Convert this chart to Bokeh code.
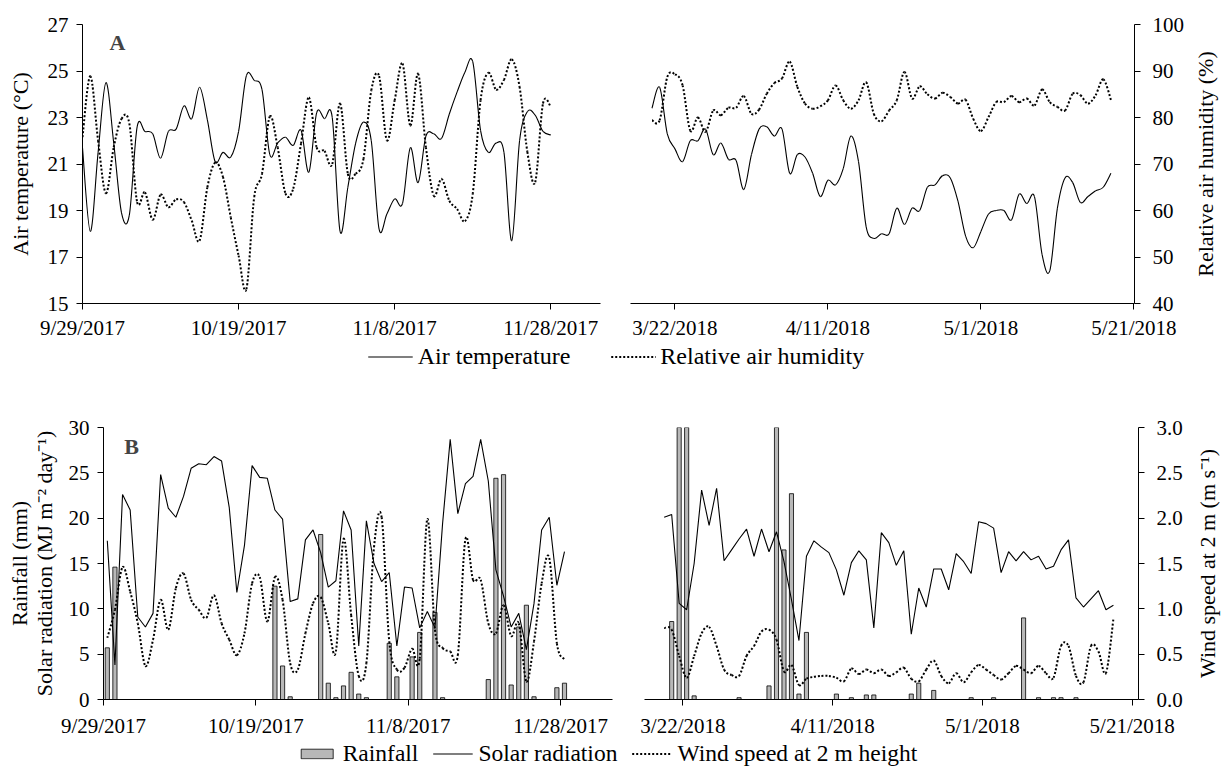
import pandas as pd
from bokeh.plotting import figure
from bokeh.models import (Range1d, FixedTicker, Label, Legend, LegendItem,
                          NumeralTickFormatter, Spacer)
from bokeh.layouts import column, row
from bokeh.embed import file_html
from bokeh.resources import INLINE

FONT = "Liberation Serif"

# ---------------- data ----------------
dates_2017 = pd.date_range("2017-09-29", "2017-11-28", freq="D")
dates_2018 = pd.date_range("2018-03-19", "2018-05-18", freq="D")
origin_2017 = pd.Timestamp("2017-09-29")
origin_2018 = pd.Timestamp("2018-03-22")
ticks_2017 = ["9/29/2017", "10/19/2017", "11/8/2017", "11/28/2017"]
ticks_2018 = ["3/22/2018", "4/11/2018", "5/1/2018", "5/21/2018"]

air_temp_2017 = [21.7, 18.1, 21.5, 24.5, 21.9, 18.9, 18.8, 22.6, 22.4, 22.3, 21.25, 22.4, 22.5,
                 23.5, 22.95, 24.3, 22.9, 21.1, 21.5, 21.3, 22.4, 24.8, 24.6, 24.2, 21.4, 21.9,
                 22.15, 21.8, 22.45, 20.65, 23.2, 22.95, 23.0, 18.1, 20.0, 21.9, 22.8, 22.0, 18.2,
                 18.85, 19.5, 19.3, 21.7, 20.2, 22.2, 22.3, 22.1, 23.15, 24.1, 24.95, 25.4, 22.45,
                 21.5, 21.9, 21.5, 17.7, 22.0, 23.25, 23.1, 22.4, 22.25]
rh_2017 = [75.8, 88.9, 75.0, 63.7, 73.6, 79.7, 78.7, 61.8, 63.9, 58.0, 63.4, 60.7, 62.4, 61.8,
           57.8, 53.5, 65.0, 70.3, 67.2, 58.5, 50.3, 43.1, 62.9, 67.9, 80.2, 73.6, 63.7, 64.7,
           74.4, 84.3, 73.6, 72.8, 70.0, 83.0, 67.9, 67.9, 71.1, 85.8, 88.9, 75.1, 83.7, 91.6,
           78.3, 89.4, 73.6, 63.2, 66.8, 62.1, 60.3, 57.7, 63.6, 83.7, 89.6, 86.0, 88.1, 92.5,
           86.6, 72.6, 66.1, 83.0, 82.3]
air_temp_2018 = [23.4, 24.3, 22.3, 21.65, 21.1, 22.0, 22.0, 22.5, 21.4, 21.9, 21.2, 21.15, 19.9,
                 21.4, 22.5, 22.6, 22.2, 22.5, 20.6, 21.4, 21.3, 20.6, 19.6, 20.3, 20.1, 20.8,
                 22.2, 21.1, 18.3, 17.8, 18.0, 18.0, 19.1, 18.4, 19.1, 19.0, 20.0, 20.1, 20.5,
                 20.4, 19.4, 17.9, 17.4, 18.1, 18.85, 19.0, 19.0, 18.6, 19.7, 19.3, 19.6, 17.1,
                 16.4, 19.1, 20.4, 20.2, 19.35, 19.6, 19.85, 20.0, 20.6]
rh_2018 = [79.4, 79.4, 88.7, 89.3, 86.9, 77.2, 80.0, 76.9, 81.5, 80.5, 82.1, 82.1, 84.6, 80.8,
           81.7, 85.1, 87.4, 88.4, 92.0, 86.6, 83.0, 81.9, 82.4, 83.7, 86.9, 83.7, 81.9, 83.7,
           87.6, 80.8, 79.2, 81.5, 83.7, 89.8, 84.1, 86.7, 85.0, 84.1, 85.3, 84.4, 83.0, 83.8,
           79.7, 77.1, 80.1, 83.3, 83.3, 84.6, 83.3, 84.1, 82.6, 86.0, 83.3, 82.3, 81.5, 85.1,
           84.8, 83.0, 84.8, 88.2, 83.8]

rain_2017 = [5.7, 14.6, 0, 0, 0, 0, 0, 0, 0, 0, 0, 0, 0, 0, 0, 0, 0, 0, 0, 0, 0, 0, 12.5, 3.7,
             0.3, 0, 0, 0, 18.2, 1.8, 0.2, 1.5, 3.0, 0.6, 0.2, 0, 0, 6.2, 2.5, 0, 4.7, 7.4, 0,
             9.6, 0.2, 0, 0, 0, 0, 0, 2.2, 24.4, 24.8, 1.6, 8.0, 10.4, 0.3, 0, 0, 1.3, 1.8]
solar_2017 = [17.5, 3.8, 22.6, 20.9, 9.1, 8.0, 9.5, 24.8, 21.1, 20.1, 22.4, 25.5, 26.0, 25.9,
              26.8, 26.3, 21.2, 11.8, 17.0, 25.8, 24.5, 24.4, 20.9, 19.9, 10.8, 11.1, 17.6,
              18.7, 16.2, 12.4, 13.1, 20.8, 18.7, 5.9, 19.7, 15.0, 13.0, 14.0, 5.9, 12.4, 12.3,
              7.9, 9.7, 7.9, 19.4, 28.7, 20.5, 23.8, 24.6, 28.7, 24.1, 14.3, 11.4, 8.0, 9.5,
              5.5, 10.6, 18.7, 20.1, 12.6, 16.3]
wind_2017 = [0.68, 0.99, 1.46, 1.19, 0.84, 0.37, 0.66, 1.10, 0.77, 1.23, 1.39, 1.10, 0.99, 0.90,
             1.15, 0.84, 0.66, 0.49, 0.73, 1.28, 1.35, 0.86, 1.35, 1.10, 0.40, 0.33, 0.73, 1.06,
             1.13, 0.84, 0.53, 1.77, 0.93, 0.26, 0.40, 1.68, 2.01, 0.64, 0.33, 0.35, 0.56, 0.45,
             1.99, 0.77, 0.57, 0.53, 0.49, 1.77, 1.32, 1.32, 0.84, 0.73, 1.04, 0.70, 0.84, 0.20,
             0.64, 1.28, 1.56, 0.62, 0.44]
rain_2018 = [0, 8.6, 42.0, 48.0, 0.4, 0, 0, 0, 0, 0, 0.2, 0, 0, 0, 1.5, 36.0, 16.5, 22.7, 0.6,
             7.4, 0, 0, 0, 0.6, 0, 0.2, 0, 0.5, 0.5, 0, 0, 0, 0, 0.6, 1.8, 0, 1.0, 0, 0, 0, 0,
             0.2, 0, 0, 0.2, 0, 0, 0, 9.0, 0, 0.2, 0, 0.2, 0.2, 0, 0.2, 0, 0, 0, 0, 0]
solar_2018 = [20.1, 20.4, 10.6, 9.9, 15.0, 23.1, 19.2, 23.3, 15.3, 16.5, 17.7, 18.8, 15.8, 18.8,
              16.3, 18.5, 15.2, 11.0, 6.5, 15.8, 17.5, 16.8, 16.2, 14.3, 11.5, 15.1, 16.4, 15.4,
              7.9, 18.4, 17.3, 14.8, 16.4, 7.2, 12.3, 10.2, 14.4, 14.4, 12.1, 16.1, 15.2, 13.9,
              19.6, 19.4, 18.9, 14.0, 16.3, 15.3, 16.3, 15.4, 15.8, 14.4, 14.7, 16.5, 17.6, 11.2,
              10.2, 11.1, 12.0, 9.9, 10.4]
wind_2018 = [0.79, 0.77, 0.48, 0.24, 0.48, 0.73, 0.80, 0.59, 0.33, 0.27, 0.26, 0.48, 0.59, 0.75,
             0.77, 0.66, 0.31, 0.38, 0.16, 0.23, 0.25, 0.26, 0.26, 0.24, 0.20, 0.34, 0.28, 0.33,
             0.29, 0.33, 0.26, 0.30, 0.35, 0.23, 0.20, 0.33, 0.43, 0.26, 0.18, 0.29, 0.19, 0.30,
             0.38, 0.33, 0.27, 0.22, 0.29, 0.37, 0.33, 0.29, 0.37, 0.29, 0.24, 0.59, 0.59, 0.26,
             0.19, 0.59, 0.53, 0.29, 0.89]

temp_ticks = [15, 17, 19, 21, 23, 25, 27]
rh_ticks = [40, 50, 60, 70, 80, 90, 100]
rain_ticks = [0, 5, 10, 15, 20, 25, 30]
wind_ticks = [0.0, 0.5, 1.0, 1.5, 2.0, 2.5, 3.0]

# ---------------- helpers ----------------
x17 = [(d - origin_2017).days for d in dates_2017]
x18 = [(d - origin_2018).days for d in dates_2018]
tick_x17 = [(pd.to_datetime(t, format="%m/%d/%Y") - origin_2017).days for t in ticks_2017]
tick_x18 = [(pd.to_datetime(t, format="%m/%d/%Y") - origin_2018).days for t in ticks_2018]
HALF = 0.5  # daily columns sit in the middle of their day slot
TICK_FS = "21px"
TITLE_FS = "22px"
LEG_FS = "23.5px"
DOT = "2 2"


def base_fig(width, height, xr, yr, y_loc, mb):
    p = figure(width=width, height=height, x_range=Range1d(*xr), y_range=Range1d(*yr),
               output_backend="svg", toolbar_location=None, y_axis_location=y_loc,
               min_border_left=mb[0], min_border_right=mb[1],
               min_border_top=mb[2], min_border_bottom=mb[3])
    p.outline_line_color = None
    p.xgrid.visible = False
    p.ygrid.visible = False
    p.background_fill_color = "white"
    p.border_fill_color = "white"
    return p


def style_title(ax, label, label_standoff):
    ax.axis_label = label
    ax.axis_label_text_font = FONT
    ax.axis_label_text_font_size = TITLE_FS
    ax.axis_label_text_font_style = "normal"
    ax.axis_label_text_color = "black"
    ax.axis_label_standoff = label_standoff
    ax.axis_label_text_line_height = 1.0


def style_axis(ax, ticks, standoff, overrides=None, fmt=None, label=None, label_standoff=8):
    ax.ticker = FixedTicker(ticks=ticks)
    if overrides:
        ax.major_label_overrides = overrides
    if fmt:
        ax.formatter = NumeralTickFormatter(format=fmt)
    ax.axis_line_color = "black"
    ax.axis_line_width = 1
    ax.major_tick_line_color = "black"
    ax.major_tick_out = 6
    ax.major_tick_in = 0
    ax.minor_tick_line_color = None
    ax.major_label_standoff = standoff
    ax.major_label_text_font = FONT
    ax.major_label_text_font_size = TICK_FS
    ax.major_label_text_color = "black"
    if label:
        style_title(ax, label, label_standoff)


def title_fig(width, height, left, mb_top, mb_bottom, text, standoff):
    """Narrow strip that carries a right-hand axis title reading bottom-to-top."""
    p = figure(width=width, height=height, x_range=Range1d(0, 1), y_range=Range1d(0, 1),
               output_backend="svg", toolbar_location=None, x_axis_type=None,
               y_axis_location="left", min_border_left=left, min_border_right=0,
               min_border_top=mb_top, min_border_bottom=mb_bottom)
    p.outline_line_color = None
    p.xgrid.visible = False
    p.ygrid.visible = False
    ax = p.yaxis[0]
    ax.ticker = FixedTicker(ticks=[])
    ax.axis_line_color = None
    ax.major_tick_line_color = None
    ax.minor_tick_line_color = None
    ax.major_tick_out = 0
    ax.major_tick_in = 0
    ax.major_label_standoff = 0
    style_title(ax, text, standoff)
    return p


def legend_fig(width, height):
    p = figure(width=width, height=height, x_range=Range1d(0, 1), y_range=Range1d(0, 1),
               output_backend="svg", toolbar_location=None, x_axis_type=None,
               y_axis_type=None, min_border=0)
    p.outline_line_color = None
    p.xgrid.visible = False
    p.ygrid.visible = False
    return p


def smooth_line(p, xs, ys, **kw):
    """Draw a smoothed line (as in the original spreadsheet chart) through the daily values:
    one cubic Bezier piece per pair of consecutive observations."""
    n = len(xs)
    seg = {k: [] for k in ("x0", "y0", "x1", "y1", "cx0", "cy0", "cx1", "cy1")}
    for i in range(n - 1):
        a = max(i - 1, 0)
        b = min(i + 2, n - 1)
        seg["x0"].append(xs[i])
        seg["y0"].append(ys[i])
        seg["x1"].append(xs[i + 1])
        seg["y1"].append(ys[i + 1])
        seg["cx0"].append(xs[i] + (xs[i + 1] - xs[a]) / 6)
        seg["cy0"].append(ys[i] + (ys[i + 1] - ys[a]) / 6)
        seg["cx1"].append(xs[i + 1] - (xs[b] - xs[i]) / 6)
        seg["cy1"].append(ys[i + 1] - (ys[b] - ys[i]) / 6)
    return p.bezier(**seg, line_color="black", **kw)


OFF = [-5, -4]  # legend sample renderers live outside the visible legend canvas

# ---------------- panel A ----------------
tl_xr = (0, 66.37)
tr_xr = (-5.81, 60.08)
tl = base_fig(615, 343, tl_xr, (15, 27), "left", (82, 15, 24, 40))
tl.extra_y_ranges = {"rh": Range1d(40, 100)}
style_axis(tl.xaxis[0], tick_x17, 6, overrides={k: v for k, v in zip(tick_x17, ticks_2017)})
style_axis(tl.yaxis[0], temp_ticks, 8, label="Air temperature (°C)", label_standoff=12)
smooth_line(tl, x17, air_temp_2017, line_width=1.1)
smooth_line(tl, x17, rh_2017, y_range_name="rh", line_width=2, line_dash=DOT)
tl.add_layout(Label(x=tl_xr[0] + 0.0675 * (tl_xr[1] - tl_xr[0]), y=27 - 0.065 * 12, text="A",
                    text_font=FONT, text_font_style="bold", text_font_size="22px",
                    text_align="center", text_baseline="middle"))

tr = base_fig(572, 343, tr_xr, (40, 100), "right", (15, 50, 24, 40))
tr.extra_y_ranges = {"temp": Range1d(15, 27)}
style_axis(tr.xaxis[0], tick_x18, 6, overrides={k: v for k, v in zip(tick_x18, ticks_2018)})
style_axis(tr.yaxis[0], rh_ticks, 12)
smooth_line(tr, x18, air_temp_2018, y_range_name="temp", line_width=1.1)
smooth_line(tr, x18, rh_2018, line_width=2, line_dash=DOT)
tt = title_fig(41, 343, 34, 24, 40, "Relative air humidity (%)", 4)

# legend row 1
leg1 = legend_fig(1178, 26)
l1a = leg1.line(x=OFF, y=OFF, line_color="black", line_width=1.1)
l1b = leg1.line(x=OFF, y=OFF, line_color="black", line_width=2, line_dash=DOT)
lg1 = Legend(items=[LegendItem(label="Air temperature", renderers=[l1a]),
                    LegendItem(label="Relative air humidity", renderers=[l1b])],
             orientation="horizontal", location="center", label_text_font=FONT,
             label_text_font_size="24px", label_text_color="black", glyph_width=45,
             glyph_height=14, label_standoff=5, spacing=40, padding=0, margin=0,
             border_line_color=None, background_fill_alpha=0)
leg1.add_layout(lg1, "center")

# ---------------- panel B ----------------
bl_xr = (0, 66.8)
br_xr = (-5.13, 60.85)
bar_w = 0.55

bl = base_fig(628, 371, bl_xr, (0, 30), "left", (103, 16, 58, 40))
bl.extra_y_ranges = {"wind": Range1d(0, 3)}
style_axis(bl.xaxis[0], tick_x17, 8, overrides={k: v for k, v in zip(tick_x17, ticks_2017)})
style_axis(bl.yaxis[0], rain_ticks, 8,
           label="Rainfall (mm)\nSolar radiation (MJ m\u207b\u00b2 day\u207b\u00b9)",
           label_standoff=9)
r17x = [x + HALF for x, r in zip(x17, rain_2017) if r > 0]
r17v = [r for r in rain_2017 if r > 0]
bl.vbar(x=r17x, top=r17v, bottom=0, width=bar_w, fill_color="#b8b8b8", line_color="black",
        line_width=0.8)
bl.line([x + HALF for x in x17], solar_2017, line_color="black", line_width=1.1)
smooth_line(bl, [x + HALF for x in x17], wind_2017, y_range_name="wind", line_width=2,
            line_dash=DOT)
bl.add_layout(Label(x=bl_xr[0] + 0.055 * (bl_xr[1] - bl_xr[0]), y=30 * 0.93, text="B",
                    text_font=FONT, text_font_style="bold", text_font_size="22px",
                    text_align="center", text_baseline="middle"))

br = base_fig(560, 371, br_xr, (0, 3), "right", (16, 50, 58, 40))
br.extra_y_ranges = {"rain": Range1d(0, 30)}
style_axis(br.xaxis[0], tick_x18, 8, overrides={k: v for k, v in zip(tick_x18, ticks_2018)})
style_axis(br.yaxis[0], wind_ticks, 12, fmt="0.0")
r18x = [x + HALF for x, r in zip(x18, rain_2018) if r > 0]
r18v = [r for r in rain_2018 if r > 0]
br.vbar(x=r18x, top=r18v, bottom=0, width=bar_w, y_range_name="rain", fill_color="#b8b8b8",
        line_color="black", line_width=0.8)
br.line([x + HALF for x in x18], solar_2018, y_range_name="rain", line_color="black",
        line_width=1.1)
smooth_line(br, [x + HALF for x in x18], wind_2018, line_width=2, line_dash=DOT)
bt = title_fig(40, 371, 34, 58, 40, "Wind speed at 2 m (m s\u207b\u00b9)", 3)

# legend row 2
leg2 = legend_fig(1214, 26)
l2a = leg2.vbar(x=[-5], top=[-4], bottom=-5, width=0.1, fill_color="#b8b8b8",
                line_color="black", line_width=0.8)
l2b = leg2.line(x=OFF, y=OFF, line_color="black", line_width=1.1)
l2c = leg2.line(x=OFF, y=OFF, line_color="black", line_width=2, line_dash=DOT)
lg2 = Legend(items=[LegendItem(label="Rainfall", renderers=[l2a]),
                    LegendItem(label="Solar radiation", renderers=[l2b]),
                    LegendItem(label="Wind speed at 2 m height", renderers=[l2c])],
             orientation="horizontal", location="center", label_text_font=FONT,
             label_text_font_size=LEG_FS, label_text_color="black", glyph_width=40,
             glyph_height=12, label_standoff=6, spacing=14, padding=0, margin=0,
             border_line_color=None, background_fill_alpha=0)
leg2.add_layout(lg2, "center")

layout = column(row(tl, tr, tt), row(Spacer(width=27, height=26), leg1),
                row(bl, br, bt), leg2)
open("out.html", "w").write(file_html(layout, INLINE))
